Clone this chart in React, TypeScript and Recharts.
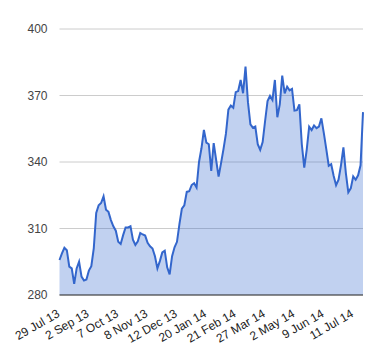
import { Area, AreaChart, CartesianGrid, XAxis, YAxis } from "recharts";

const prices = [
  295.8, 298.8, 301.3, 300.2, 292.8, 292, 285, 292, 295, 288.3,
  286.5, 287, 291, 293, 301, 317, 320.5, 321.5, 324.5, 318.5,
  317.5, 313.8, 311, 309, 304, 303, 307, 310.5, 310.5, 311,
  305, 302.6, 304.2, 308, 307.3, 306.8, 303.5, 302, 301, 297.5,
  292, 295.3, 299.2, 300, 292.5, 289.3, 297.5, 301.5, 304, 312,
  319, 320.5, 326.5, 326.8, 329.6, 330.4, 328.5, 340, 346.2, 354.5,
  348.7, 348, 336, 348.5, 340.9, 333.4, 339.5, 345.8, 352.8, 363.6,
  365.5, 364.5, 371.5, 372, 377, 371, 383, 367, 357, 355.5,
  356, 348, 345.5, 349, 358.5, 367.5, 369.8, 368, 377, 360.2,
  366, 379, 371, 374, 372.3, 373, 363.2, 363.4, 366, 348,
  337.5, 345.5, 355.9, 354.4, 356.5, 355.3, 356, 359.7, 353, 345.8,
  338.3, 339, 333.8, 329.5, 332, 338.5, 346.6, 335, 326.3, 328.1,
  333.5, 332, 334, 338.5, 362.5,
];

const tickLabels = [
  "29 Jul 13",
  "2 Sep 13",
  "7 Oct 13",
  "8 Nov 13",
  "12 Dec 13",
  "20 Jan 14",
  "21 Feb 14",
  "27 Mar 14",
  "2 May 14",
  "9 Jun 14",
  "11 Jul 14",
];

const yTicks = [280, 310, 340, 370, 400];
const labelEvery = 12;

const data = prices.map((price, i) => ({ i, price }));
const xTicks = tickLabels.map((_, k) => k * labelEvery);

const font = '"Liberation Sans", Arial, sans-serif';

function DateTick({ x, y, payload }: any) {
  const label = tickLabels[Math.round(payload.value / labelEvery)];
  const tx = x + 1;
  const ty = y + 13;
  return (
    <text
      x={tx}
      y={ty}
      transform={`rotate(-30, ${tx}, ${ty})`}
      textAnchor="end"
      fontSize={12}
      fontFamily={font}
      fill="#222"
    >
      {label}
    </text>
  );
}

export default function App() {
  return (
    <div style={{ position: "absolute", left: 0, top: 0, background: "#fff" }}>
      <AreaChart
        width={380}
        height={360}
        data={data}
        margin={{ top: 29, right: 17, bottom: 0, left: 0 }}
      >
        <CartesianGrid vertical={false} stroke="#ccc" />
        <XAxis
          dataKey="i"
          type="number"
          domain={[0, prices.length - 1]}
          ticks={xTicks}
          interval={0}
          tickLine={false}
          axisLine={{ stroke: "#333", strokeWidth: 1 }}
          tick={<DateTick />}
          height={65}
        />
        <YAxis
          domain={[280, 400]}
          ticks={yTicks}
          width={59.5}
          axisLine={false}
          tickLine={false}
          tickMargin={6}
          tick={{ fontSize: 12, fontFamily: font, fill: "#444" }}
        />
        <Area
          type="linear"
          dataKey="price"
          stroke="#3366cc"
          strokeWidth={2}
          fill="#3366cc"
          fillOpacity={0.3}
          isAnimationActive={false}
          dot={false}
          activeDot={false}
        />
      </AreaChart>
    </div>
  );
}
